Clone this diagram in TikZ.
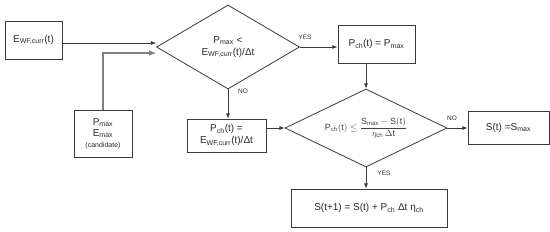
\documentclass[tikz,border=0pt]{standalone}
\usepackage{fontspec}
\setmainfont{Liberation Sans}
\usepackage{amsmath}
\usetikzlibrary{shapes.geometric,calc}
\definecolor{linegray}{HTML}{3A3A3A}
\definecolor{textgray}{HTML}{2A2A2A}

\begin{document}
\begin{tikzpicture}[x=1pt,y=-1pt,
  block/.style={rectangle, draw=linegray, line width=0.8pt, inner sep=1pt, align=center, text=textgray, font=\fontsize{10}{12}\selectfont},
  decision/.style={diamond, draw=linegray, line width=0.8pt, inner sep=0pt, align=center, text=textgray, font=\fontsize{10}{12}\selectfont},
  arr/.style={->, >=latex, draw=linegray, line width=0.8pt},
  lbl/.style={font=\fontsize{6.5}{7}\selectfont, text=textgray, inner sep=0pt}]
\useasboundingbox (0,0) rectangle (550,231);
%%%%%%%%%%%%%%%%%%%
\node[block, minimum width=57pt, minimum height=38pt] (ewf) at (33.5,40) {E\textsubscript{WF,curr}(t)};
\node[block, minimum width=58pt, minimum height=47pt] (pmax) at (103,133.5) {P\textsubscript{max}\\[-1pt]E\textsubscript{max}\\[-1pt]{\fontsize{7}{8}\selectfont (candidate)}};
\node[decision, minimum width=143pt, minimum height=84pt] (dec1) at (228,47) {P\textsubscript{max} <\\E\textsubscript{WF,curr}(t)/Δt};
\node[block, minimum width=77pt, minimum height=38pt] (pchmax) at (376.5,44) {P\textsubscript{ch}(t) = P\textsubscript{max}};
\node[block, minimum width=79pt, minimum height=33pt] (pche) at (226.5,135.5) {P\textsubscript{ch}(t) =\\E\textsubscript{WF,curr}(t)/Δt};
\node[decision, minimum width=162pt, minimum height=78pt, shape aspect=2.08] (dec2) at (366,128) {\fontsize{9}{10}\selectfont\color{black!75} $\mathrm{P}_{\mathrm{ch}}(\mathrm{t}) \leq \dfrac{\mathrm{S}_{\mathrm{max}}-\mathrm{S}(\mathrm{t})}{\eta_{\mathrm{ch}}\,\Delta\mathrm{t}}$};
\node[block, minimum width=81pt, minimum height=33pt] (smax) at (508.5,127.5) {S(t) =S\textsubscript{max}};
\node[block, minimum width=156pt, minimum height=38pt] (snext) at (369,208) {S(t+1) = S(t) + P\textsubscript{ch} Δt η\textsubscript{ch}};

%%%%%%%%%%%%%%%%%%%
\draw[arr] ([yshift=-3pt]ewf.east) -- ([yshift=-3pt]ewf.east -| dec1.west);
\draw[arr, draw=gray, line width=1.4pt] (pmax.north) |- ([yshift=-6pt]dec1.west);
\draw[arr] (dec1.east) -- (dec1.east -| pchmax.west);
\draw[arr] (dec1.south) -- (dec1.south |- pche.north);
\draw[arr] (dec2.north |- pchmax.south) -- (dec2.north);
\draw[arr] (pche.east |- dec2.west) -- (dec2.west);
\draw[arr] (dec2.east) -- (dec2.east -| smax.west);
\draw[arr] (dec2.south) -- (dec2.south |- snext.north);

%%%%%%%%%%%%%%%%%%%
\node[lbl] (yes1) at (305,37) {YES};
\node[lbl] (no1) at (243,91) {NO};
\node[lbl] (no2) at (452,118) {NO};
\node[lbl] (yes2) at (384,173) {YES};
\end{tikzpicture}
\end{document}
